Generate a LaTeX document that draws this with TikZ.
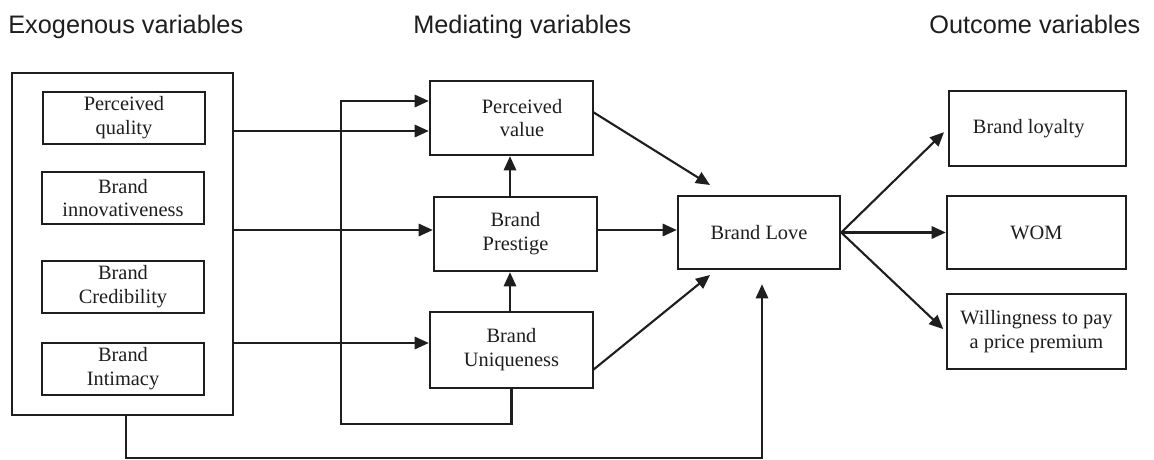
\documentclass[tikz,border=0pt]{standalone}
\usepackage{fontspec}
\setmainfont{Liberation Serif}
\newfontfamily\hdrfont{Liberation Sans}
\usetikzlibrary{arrows.meta}
\definecolor{ink}{RGB}{30,30,30}
\begin{document}
\begin{tikzpicture}[x=0.02cm,y=-0.02cm,
  box/.style={draw=ink,line width=1.4pt,inner sep=0pt,align=center,text=ink,
    font=\fontsize{11.6}{13.6}\selectfont},
  hdr/.style={anchor=base west,inner sep=0pt,text=ink,font=\hdrfont\fontsize{14.4}{16}\selectfont},
  arr/.style={draw=ink,line width=1.2pt,-{Triangle[length=8pt,width=7pt]}},
  ln/.style={draw=ink,line width=1.2pt}]
\useasboundingbox (0,0) rectangle (1154,460);
\fill[white] (0,0) rectangle (1154,460);
% headers
\node[hdr] (h1) at (8,33) {Exogenous variables};
\node[hdr] (h2) at (413,33) {Mediating variables};
\node[hdr] (h3) at (929,33) {Outcome variables};
% exogenous
\node[box,minimum width=4.42cm,minimum height=6.84cm] (outer) at (122.5,244) {};
\node[box,minimum width=3.24cm,minimum height=1.04cm] (pq) at (124,118) {Perceived\\quality};
\node[box,minimum width=3.24cm,minimum height=1.04cm] (bi) at (123,198) {Brand\\innovativeness};
\node[box,minimum width=3.24cm,minimum height=1.04cm] (bc) at (123,287) {Brand\\Credibility};
\node[box,minimum width=3.24cm,minimum height=1.04cm] (bint) at (123,369) {Brand\\Intimacy};
% mediating
\node[box,minimum width=3.26cm,minimum height=1.48cm] (pv) at (511.5,118) {\hspace{12pt}Perceived\\\hspace{12pt}value};
\node[box,minimum width=3.26cm,minimum height=1.48cm] (bp) at (515.5,234) {Brand\\Prestige};
\node[box,minimum width=3.26cm,minimum height=1.52cm] (bu) at (511.5,350) {Brand\\Uniqueness};
\node[box,minimum width=3.24cm,minimum height=1.46cm] (bl) at (759,232.5) {Brand Love};
% outcome
\node[box,minimum width=3.54cm,minimum height=1.5cm] (loy) at (1037.5,128.5) {Brand loyalty\hspace{10pt}};
\node[box,minimum width=3.58cm,minimum height=1.46cm] (wom) at (1036.5,232.5) {WOM};
\node[box,minimum width=3.58cm,minimum height=1.5cm] (wil) at (1036.5,331.5) {Willingness to pay\\a price premium};
% helper coordinates
\coordinate (y101) at (0,101);
\coordinate (y131) at (0,131);
\coordinate (y230) at (0,230);
\coordinate (y343) at (0,343);
\coordinate (x510) at (510,0);
\coordinate (loopL) at (341,424);
\coordinate (botL) at (126,458);
\coordinate (botR) at (762,458);
\coordinate (pvout) at (593,112);
\coordinate (tipA) at (710,185);
\coordinate (buout) at (593,370);
\coordinate (tipB) at (710,275);
% connectors
\draw[arr] (outer.east |- y131) -- (pv.west |- y131);
\draw[arr] (outer.east |- y230) -- (bp.west |- y230);
\draw[arr] (outer.east |- y343) -- (bu.west |- y343);
\draw[arr] (bu.south) |- (loopL) |- (pv.west |- y101);
\draw[arr] (bp.north -| x510) -- (pv.south -| x510);
\draw[arr] (bu.north -| x510) -- (bp.south -| x510);
\draw[arr] (pvout) -- (tipA);
\draw[arr] (bp.east |- y230) -- (bl.west |- y230);
\draw[arr] (buout) -- (tipB);
\draw[arr,shorten >=8pt] (outer.south -| botL) -- (botL) -- (botR) -- (bl.south -| botR);
\draw[arr,shorten >=3pt] (bl.east) -- (loy.west);
\draw[arr] (bl.east) -- (wom.west);
\draw[arr,shorten >=2pt] (bl.east) -- (wil.west);
\end{tikzpicture}
\end{document}
